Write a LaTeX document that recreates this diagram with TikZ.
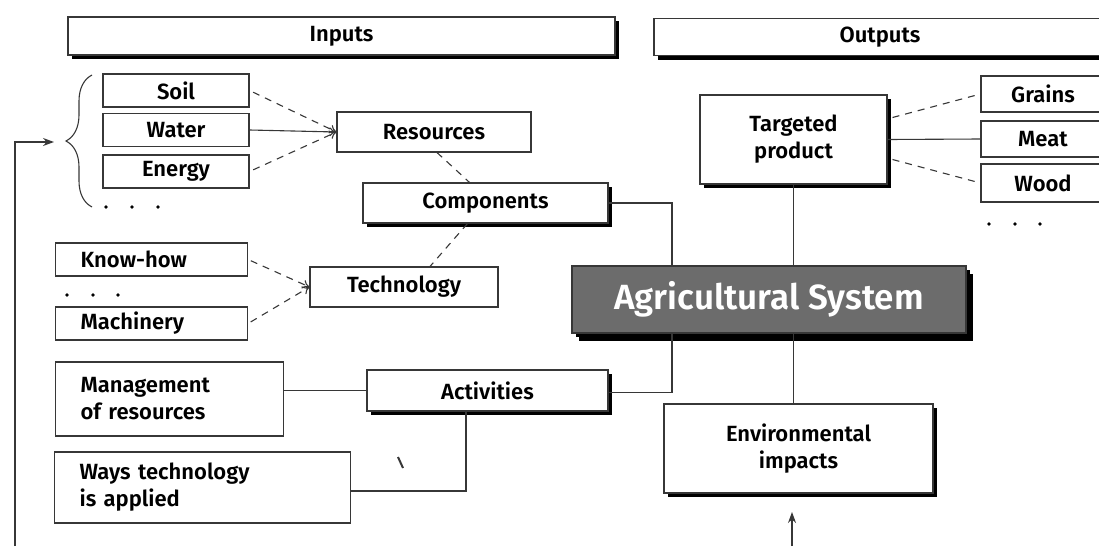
\documentclass[tikz,border=0pt]{standalone}
\usepackage{fontspec}
\setmainfont{Fira Sans}[BoldFont={Fira Sans SemiBold}]
\usetikzlibrary{arrows.meta,shadows,decorations.pathreplacing}
\definecolor{sysgray}{RGB}{108,108,108}
\definecolor{linegray}{RGB}{55,55,55}
\tikzset{
	box/.style={draw=linegray,line width=1.1pt,fill=white,inner sep=0pt,font=\fontsize{22}{27}\selectfont\bfseries},
	shbox/.style={box,drop shadow={shadow xshift=4pt,shadow yshift=-4pt,fill=black,opacity=1}},
	sz/.style 2 args={minimum width=#1pt,minimum height=#2pt},
	lbox/.style 2 args={box,anchor=west,align=left,inner xsep=25pt,text width=#1pt,minimum height=#2pt},
	link/.style={draw=linegray,line width=1.1pt},
	dlink/.style={link,dash pattern=on 7pt off 6pt},
	tip/.style={-{To[length=7pt,width=9pt]}}
}
\begin{document}
\begin{tikzpicture}[x=1pt,y=-1pt]
	\useasboundingbox (0,0) rectangle (1099,546);
	\node[shbox,sz={547}{38}] (inputs) at (341.5,36) {Inputs};
	\node[shbox,sz={452}{37}] (outputs) at (880,37) {Outputs};
	\node[box,sz={146}{33}] (soil) at (176,90.5) {Soil};
	\node[box,sz={146}{33}] (water) at (176,130) {Water};
	\node[box,sz={146}{33}] (energy) at (176,171.5) {Energy};
	\node[box,sz={194}{40}] (res) at (434,132) {Resources};
	\node[shbox,sz={245}{40}] (comp) at (485.5,203) {Components};
	\node[box,sz={188}{40}] (tech) at (404,287) {Technology};
	\node[lbox={142}{33}] (know) at (55,259.5) {Know-how};
	\node[lbox={142}{33}] (mach) at (55,323.5) {Machinery};
	\node[lbox={178}{74}] (mgmt) at (55,399) {Management\\of resources};
	\node[lbox={246}{71}] (ways) at (54,487.5) {Ways technology\\is applied};
	\node[shbox,sz={241}{41}] (act) at (487.5,390.5) {Activities};
	\node[shbox,sz={394}{67},fill=sysgray,text=white,font=\fontsize{35}{40}\selectfont\bfseries,
		drop shadow={shadow xshift=7pt,shadow yshift=-8pt,fill=black,opacity=1}] (agri) at (769,299.5) {Agricultural System};
	\node[shbox,sz={187}{89},align=center] (target) at (793.5,139.5) {Targeted\\product};
	\node[shbox,sz={269}{89},align=center] (env) at (798.5,448.5) {Environmental\\impacts};
	\node[box,sz={124}{36}] (grains) at (1043,94) {Grains};
	\node[box,sz={124}{36}] (meat) at (1043,139) {Meat};
	\node[box,sz={124}{38}] (wood) at (1043,183) {Wood};
	\coordinate (brtip) at (54,142);
	\coordinate (fbin) at (15,546);
	\coordinate (envin) at (792,546);
	\coordinate (envtip) at (792,512);
	\draw[link,decorate,decoration={brace,amplitude=26pt,aspect=0.5}] (92,207) -- (92,75);
	\draw[link,-{Stealth[length=11pt,width=8pt]}] (fbin) |- (brtip);
	\draw[link,-{Stealth[length=11pt,width=8pt]}] (envin) -- (envtip);
	\foreach \x in {106,132,158} \fill (\x,207) circle (1.9pt);
	\foreach \x in {67,93,118} \fill (\x,295) circle (1.9pt);
	\foreach \x in {989,1015,1040} \fill (\x,224) circle (1.9pt);
	\draw[dlink,tip,shorten <=4pt] (soil.east) -- (res.west);
	\draw[link,tip] (water.east) -- (res.west);
	\draw[dlink,tip,shorten <=4pt] (energy.east) -- (res.west);
	\draw[dlink] ([xshift=3pt]res.south) -- ([xshift=-16pt]comp.north);
	\draw[dlink] ([xshift=-18pt]comp.south) -- ([xshift=26pt]tech.north);
	\draw[dlink,tip,shorten <=3pt] (know.east) -- (tech.west);
	\draw[dlink,tip,shorten <=3pt] (mach.east) -- (tech.west);
	\draw[link] (comp.east) -| ([xshift=-97pt]agri.north);
	\draw[link] ([xshift=-97pt]agri.south) |- ([yshift=-2pt]act.east);
	\draw[link] (mgmt.east |- act.west) -- (act.west);
	\draw[link] ([xshift=-21.5pt]act.south) |- ([yshift=-3.5pt]ways.east);
	\draw[link] (target.south) -- (target.south |- agri.north);
	\draw[link] (agri.south -| target.south) -- (env.north -| target.south);
	\draw[dlink] ([xshift=5pt,yshift=22pt]target.east) -- (grains.west);
	\draw[link] (target.east) -- (meat.west);
	\draw[dlink] ([xshift=5pt,yshift=-20pt]target.east) -- (wood.west);
	\draw[line width=2pt,linegray] (398,457) -- (403,468);
\end{tikzpicture}
\end{document}
